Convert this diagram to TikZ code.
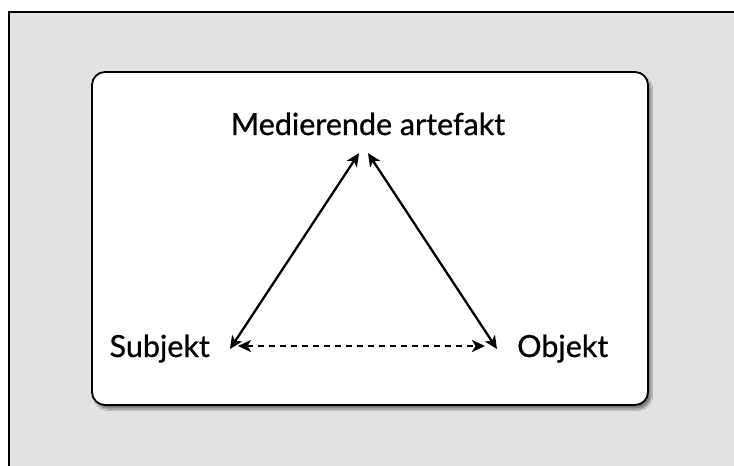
\documentclass[tikz,border=0pt]{standalone}
\usepackage{fontspec}
\newfontfamily\labelfont{Lato}[FakeBold=0.8]
\usepackage{tikz}
\usetikzlibrary{arrows.meta,shadows.blur}
\tikzset{
  font={\labelfont\fontsize{30.5pt}{34}\selectfont}}
\definecolor{panelgray}{RGB}{226,226,226}

\begin{document}
\begin{tikzpicture}[x=1pt,y=-1pt]
\tikzset{
  word/.style={inner xsep=20pt,inner ysep=0pt,text height=22pt,text depth=6pt},
  link/.style={line width=2.3pt,{Stealth[length=13pt,width=12pt,inset=3.5pt]}-{Stealth[length=13pt,width=12pt,inset=3.5pt]}}}
\useasboundingbox (0,0) rectangle (734,466);
% gray frame and white card
\draw [line width=1.8pt,fill=panelgray] (9,12) rectangle (745,480);
\draw [line width=1.8pt,fill=white,rounded corners=13pt,
  blur shadow={shadow xshift=3pt,shadow yshift=-4pt,shadow blur steps=6,shadow opacity=45}]
  (92,72) rectangle (648,405);
% the three corners
\node [word,anchor=base,inner ysep=12pt] (med) at (368,135) {Medierende artefakt};
\node [word,anchor=base east] (sub) at (230,357) {Subjekt};
\node [word,anchor=base west] (obj) at (497,357) {Objekt};
% arrows
\draw [link] (sub.east) -- ([xshift=-9pt]med.south);
\draw [link] (obj.west) -- ([xshift=0pt]med.south);
\draw [link,dash pattern=on 6.5pt off 4.5pt,shorten <=8pt,shorten >=12pt] ([yshift=3pt]sub.east) -- ([yshift=3pt]obj.west);
\end{tikzpicture}
\end{document}
